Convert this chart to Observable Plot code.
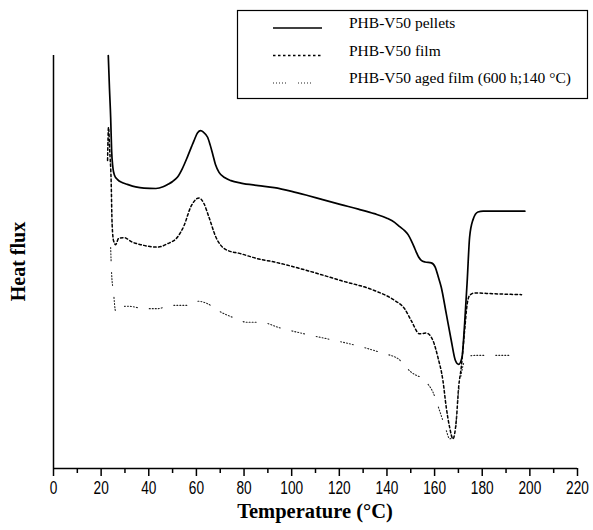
<!DOCTYPE html>
<html>
<head>
<meta charset="utf-8">
<script src="https://cdn.jsdelivr.net/npm/d3@7"></script>
<script src="https://cdn.jsdelivr.net/npm/@observablehq/plot@0.6"></script>
<style>
  html, body { margin: 0; padding: 0; background: #fff; }
  #wrap { position: relative; width: 593px; height: 530px; }
  #legend { position: absolute; left: 0; top: 0; }
</style>
</head>
<body>
<div id="wrap"></div>
<script>
// ---- data ----
const seriesNames = ["PHB-V50 pellets", "PHB-V50 film", "PHB-V50 aged film (600 h;140 \u00B0C)"];
const xTickLabels = [0, 20, 40, 60, 80, 100, 120, 140, 160, 180, 200, 220];
const xMinorTicks = [10, 30, 50, 70, 90, 110, 130, 150, 170, 190, 210];
const xTitle = "Temperature (\u00B0C)";
const yTitle = "Heat flux";

const pelletsT  = [23.0, 23.5, 24.0, 24.4, 24.9, 25.6, 26.8, 29, 31, 34.5, 38, 43, 46, 48, 50, 52, 54, 56.2, 58, 59, 60.5, 61.8, 63, 64.7, 65.8, 66.8, 68, 69.5, 72, 74.5, 78.7, 86, 92.7, 100, 106.7, 113, 120.7, 128, 134.7, 140, 143.2, 145.5, 147.4, 149, 150.2, 151.3, 152.3, 153.3, 154.4, 156, 158.6, 160.3, 161.5, 162.8, 164.9, 167.0, 168.7, 170.1, 171.5, 172.6, 173.7, 174.7, 176.1, 178.2, 180.4, 197.9];
const pelletsHF = [100, 92, 85, 77, 73, 71, 70.0, 69.2, 68.8, 68.2, 67.9, 67.8, 68.2, 68.8, 69.5, 70.5, 72.5, 75.4, 78, 79.4, 81.3, 81.8, 81.4, 80.2, 78.3, 76.2, 73.6, 71.7, 70.4, 69.7, 69.1, 68.5, 68.0, 67.1, 66.1, 65.1, 63.9, 62.8, 61.7, 60.6, 59.6, 58.5, 57.6, 56.5, 55.2, 53.8, 52.4, 51.2, 50.4, 50.0, 49.8, 48.7, 46.5, 43.9, 37.5, 31.0, 26.2, 25.2, 26.9, 35.0, 45.5, 56.0, 60.2, 62.1, 62.3, 62.3];

const filmT  = [22.7, 23.1, 23.6, 24.2, 24.6, 25.2, 26.1, 27.3, 29.6, 33.1, 36.6, 43.6, 47.8, 52.0, 54.8, 57.6, 61.1, 63.2, 65.3, 68.2, 72.4, 78.7, 85.7, 92.7, 106.7, 120.7, 134.7, 143.2, 147.4, 150.2, 153.7, 156.5, 159.3, 161.4, 163.5, 164.9, 166.3, 167.7, 169.1, 170.1, 171.2, 172.6, 173.7, 174.7, 176.8, 185.2, 196.5];
const filmHF = [74.6, 82.6, 77.0, 69.7, 59.3, 55.2, 54.2, 55.7, 55.9, 54.8, 54.2, 53.6, 54.4, 56.0, 58.8, 63.3, 65.5, 64.1, 60.8, 56.0, 53.0, 52.0, 50.8, 50.0, 47.9, 45.5, 43.1, 40.7, 38.7, 35.8, 32.6, 32.8, 31.0, 26.9, 21.3, 14.8, 10.0, 7.2, 11.6, 19.7, 24.5, 33.4, 39.9, 41.9, 42.5, 42.3, 42.1];

const agedT  = [24.0, 24.4, 25.2, 26.1, 28.2, 31.0, 38.7, 43.8, 49.2, 56.2, 60.5, 64.7, 68.9, 75.2, 81.5, 87.1, 94.8, 105.3, 116.5, 127.1, 138.3, 144.6, 150.2, 155.8, 159.3, 162.1, 164.9, 166.3, 168.4, 169.8, 171.2, 172.6, 174.0, 178.2, 195.1];
const agedHF = [53.5, 47.2, 42.6, 38.0, 39.1, 39.3, 38.7, 38.7, 39.5, 39.5, 40.5, 39.9, 38.3, 36.6, 35.4, 35.4, 34.1, 32.6, 31.2, 29.8, 27.9, 26.6, 23.3, 21.3, 18.5, 14.0, 9.2, 7.2, 7.6, 17.3, 22.9, 26.2, 27.2, 27.4, 27.4];

// ---- styles per series ----
const dashes = ["none", "2.5,2.5", "1,2,1,2,1,2,1,2,1,12"];
const widths = [1.7, 1.5, 1.1];
const strokes = ["#000", "#000", "#222"];

const series = [
  pelletsT.map((t, i) => ({t, hf: pelletsHF[i]})),
  filmT.map((t, i) => ({t, hf: filmHF[i]})),
  agedT.map((t, i) => ({t, hf: agedHF[i]}))
];

const chart = Plot.plot({
  width: 593,
  height: 530,
  marginLeft: 53,
  marginRight: 16,
  marginTop: 55,
  marginBottom: 62,
  x: {domain: [0, 220]},
  y: {domain: [0, 100]},
  style: {fontFamily: "'Liberation Sans', Arial, sans-serif", fontSize: "18px", color: "#000", background: "#fff"},
  marks: [
    Plot.axisX(xMinorTicks, {tickSize: 5, tickFormat: () => "", label: null, strokeWidth: 1.5}),
    Plot.axisX(xTickLabels, {tickSize: 8, tickPadding: 5, tickFormat: d => String(d), label: null, strokeWidth: 1.5}),
    Plot.axisY([], {label: null}),
    Plot.ruleY([0], {stroke: "#000", strokeWidth: 1.5}),
    Plot.ruleX([0], {stroke: "#000", strokeWidth: 1.5}),
    ...series.map((d, k) => Plot.line(d, {
      x: "t", y: "hf", curve: "monotone-x",
      stroke: strokes[k], strokeWidth: widths[k], strokeDasharray: dashes[k]
    }))
  ]
});

const wrap = document.getElementById("wrap");
wrap.appendChild(chart);

// narrow (condensed) look for tick labels, as in the reference
d3.select(chart).selectAll('g[aria-label="x-axis tick label"] text').each(function() {
  const tr = this.getAttribute("transform");
  if (tr) {
    this.setAttribute("transform", tr + " scale(0.76,1)");
  } else {
    const x = +this.getAttribute("x") || 0;
    this.removeAttribute("x");
    this.setAttribute("transform", `translate(${x},0) scale(0.76,1)`);
  }
});

// axis titles
const svg = d3.select(chart);
const fx = chart.scale("x"), fy = chart.scale("y");
const cx = (fx.range[0] + fx.range[1]) / 2;
const cy = (fy.range[0] + fy.range[1]) / 2;
svg.append("text")
  .attr("x", cx).attr("y", fy.range[0] + 50)
  .attr("text-anchor", "middle")
  .attr("font-family", "'Liberation Serif', 'Times New Roman', serif")
  .attr("font-weight", "bold").attr("font-size", 20.5).attr("fill", "#000")
  .text(xTitle);
svg.append("text")
  .attr("transform", `translate(${fx.range[0] - 28},${cy}) rotate(-90)`)
  .attr("text-anchor", "middle")
  .attr("font-family", "'Liberation Serif', 'Times New Roman', serif")
  .attr("font-weight", "bold").attr("font-size", 20).attr("fill", "#000")
  .text(yTitle);

// ---- legend overlay ----
const lg = d3.select(wrap).append("svg")
  .attr("id", "legend")
  .attr("width", 593).attr("height", 110);
lg.append("rect")
  .attr("x", 237.5).attr("y", 10.5).attr("width", 350).attr("height", 88)
  .attr("fill", "#fff").attr("stroke", "#000").attr("stroke-width", 1.2);
seriesNames.forEach((name, k) => {
  const yb = 28 + k * 27.5;
  lg.append("line")
    .attr("x1", 273).attr("x2", 322).attr("y1", yb).attr("y2", yb)
    .attr("stroke", strokes[k]).attr("stroke-width", widths[k])
    .attr("stroke-dasharray", dashes[k]);
  lg.append("text")
    .attr("x", 349).attr("y", yb)
    .attr("font-family", "'Liberation Serif', serif")
    .attr("font-size", 15.5)
    .attr("fill", "#000")
    .text(name);
});
</script>
</body>
</html>
